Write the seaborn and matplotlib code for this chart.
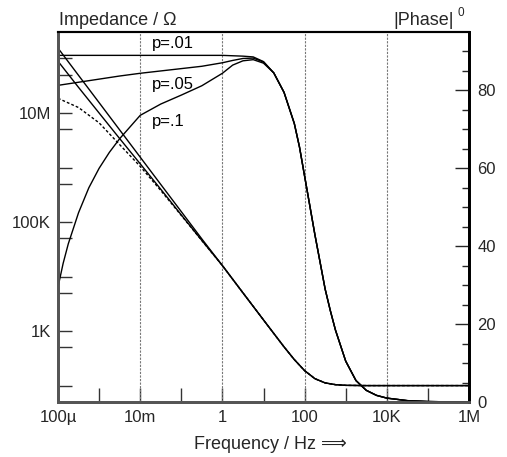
import numpy as np
import pandas as pd
import seaborn as sns
import matplotlib.pyplot as plt
from matplotlib.ticker import FixedLocator, FuncFormatter, NullLocator

# ---- impedance, low-frequency branches (Hz, Ohm) ----
f_low = [1e-4, 3.16e-4, 1e-3, 3.16e-3, 1e-2, 3.16e-2, 0.1, 0.316]
z_upper = [1.55e8, 4.9e7, 1.55e7, 4.9e6, 1.55e6, 4.9e5, 1.55e5, 4.9e4]
z_lower = [8.9e7, 2.95e7, 1.0e7, 3.4e6, 1.17e6, 4.0e5, 1.35e5, 4.6e4]
z_dashed = [1.86e7, 1.26e7, 6.6e6, 2.63e6, 1.05e6, 3.8e5, 1.32e5, 4.57e4]

# ---- impedance, common high-frequency branch ----
f_high = [1.0, 3.16, 10.0, 31.6, 56.2, 100.0, 177.8, 316.0, 562.3, 1e3, 3.16e3, 1e4, 1e5, 1e6]
z_high = [1.59e4, 5.03e3, 1.6e3, 513, 300, 188, 134, 112, 104, 101, 100, 100, 100, 100]

# ---- |phase| in degrees ----
f_p01 = [1e-4, 1e-3, 1e-2, 0.1, 1.0, 1.778, 3.16, 5.623, 10.0]
ph_p01 = [89.0, 89.0, 89.0, 89.0, 89.0, 88.9, 88.8, 88.6, 87.4]

f_p05 = [1e-4, 3.16e-4, 1e-3, 3.16e-3, 1e-2, 3.16e-2, 0.1, 0.316, 1.0, 1.778, 3.16, 5.623, 10.0]
ph_p05 = [81.3, 82.1, 82.9, 83.7, 84.4, 85.0, 85.6, 86.2, 87.1, 87.7, 88.2, 88.3, 87.3]

f_p1 = [1e-4, 1.334e-4, 1.778e-4, 3.16e-4, 5.623e-4, 1e-3, 1.778e-3, 3.16e-3, 5.623e-3,
        1e-2, 3.16e-2, 0.1, 0.316, 1.0, 1.778, 3.16, 5.623, 10.0]
ph_p1 = [29.5, 35.6, 40.6, 48.6, 55.0, 60.0, 64.1, 67.6, 70.6,
         73.6, 76.5, 78.8, 81.2, 84.4, 86.5, 87.6, 87.9, 87.0]

f_tail = [17.78, 31.6, 56.2, 75.0, 100.0, 133.4, 177.8, 237.1, 316.0, 421.7, 562.3,
          1e3, 1778, 3162, 5623, 1e4, 3.162e4, 1e5, 3.162e5, 1e6]
ph_tail = [84.5, 79.5, 71.5, 65.5, 58.0, 50.5, 43.0, 36.0, 29.0, 23.5, 18.5,
           10.5, 5.5, 3.0, 1.7, 1.0, 0.35, 0.12, 0.04, 0.01]

p_labels = ["p=.01", "p=.05", "p=.1"]
x_tick_labels = {-4: "100\u00b5", -2: "10m", 0: "1", 2: "100", 4: "10K", 6: "1M"}
z_tick_labels = {1e3: "1K", 1e5: "100K", 1e7: "10M"}

sns.set_theme(style="white")
plt.rcParams["font.family"] = ["Liberation Sans", "DejaVu Sans"]

W, H = 507, 457
fig = plt.figure(figsize=(W / 100, H / 100), dpi=100)
L, R, T, B = 58, 469, 32, 402
ax = fig.add_axes([L / W, 1 - B / H, (R - L) / W, (B - T) / H])
ax2 = ax.twinx()

ax.set_xscale("log")
ax.set_yscale("log")
ax.set_xlim(1e-4, 1e6)
ax.set_ylim(50, 3.06e8)
ax2.set_ylim(0, 95)

# vertical guide lines
for xg in [1e-2, 1.0, 1e2, 1e4]:
    ax.axvline(xg, color="#777777", lw=0.8, ls=(0, (2, 1.2)), zorder=1)

# impedance curves
def zframe(f_part, z_part):
    return pd.DataFrame({"freq": list(f_part) + f_high, "Z": list(z_part) + z_high})

for zz, style in [(z_upper, "-"), (z_lower, "-"), (z_dashed, (0, (2, 1.5)))]:
    sns.lineplot(data=zframe(f_low, zz), x="freq", y="Z", ax=ax, color="black",
                 lw=1.0, linestyle=style, estimator=None, sort=False)

# phase curves
for ff, pp in [(f_p01, ph_p01), (f_p05, ph_p05), (f_p1, ph_p1)]:
    df = pd.DataFrame({"freq": ff + f_tail, "phase": pp + ph_tail})
    sns.lineplot(data=df, x="freq", y="phase", ax=ax2, color="black", lw=1.0,
                 estimator=None, sort=False)

# curve labels
for lab, yv in zip(p_labels, [92.0, 81.5, 72.0]):
    ax2.text(0.0195, yv, lab, fontsize=12, ha="left", va="center", color="black")

# ticks
decades = [10.0 ** k for k in range(-4, 7)]
ax.xaxis.set_major_locator(FixedLocator(decades))
ax.xaxis.set_minor_locator(NullLocator())
ax.xaxis.set_major_formatter(FuncFormatter(
    lambda v, pos: x_tick_labels.get(int(round(np.log10(v))), "")))

z_ticks = [100, 500, 1e3, 5e3, 1e4, 5e4, 1e5, 5e5, 1e6, 5e6, 1e7, 5e7, 1e8]
ax.yaxis.set_major_locator(FixedLocator(z_ticks))
ax.yaxis.set_minor_locator(NullLocator())
ax.yaxis.set_major_formatter(FuncFormatter(
    lambda v, pos: next((s for k, s in z_tick_labels.items() if abs(v - k) < 1e-6 * k), "")))

ax.tick_params(axis="both", which="major", direction="in", length=10, width=1.0,
               color="#333333", labelsize=12, bottom=True, left=True,
               top=False, right=False)
ax.tick_params(axis="y", pad=5)
ax.tick_params(axis="x", pad=6)
ax2.yaxis.set_major_locator(FixedLocator([0, 20, 40, 60, 80]))
ax2.yaxis.set_minor_locator(FixedLocator([5, 10, 15, 25, 30, 35, 45, 50, 55, 65, 70, 75, 85, 90]))
ax2.tick_params(axis="y", which="major", direction="in", length=10, width=1.0,
                labelsize=12, pad=6, right=True, left=False)
ax2.tick_params(axis="y", which="minor", direction="in", length=5, width=1.0,
                right=True, left=False)
ax.set_xlabel("")
ax.set_ylabel("")
ax2.set_ylabel("")

# frame
for a in (ax, ax2):
    a.spines["left"].set_color("#555555")
    a.spines["left"].set_linewidth(2.0)
    a.spines["bottom"].set_color("#555555")
    a.spines["bottom"].set_linewidth(2.0)
    a.spines["top"].set_color("black")
    a.spines["top"].set_linewidth(1.5)
    a.spines["right"].set_color("black")
    a.spines["right"].set_linewidth(2.0)

# axis titles
fig.text(59 / W, 1 - 25 / H, "Impedance / \u03a9", fontsize=13, ha="left", va="baseline")
fig.text(454 / W, 1 - 25 / H, "|Phase|", fontsize=13, ha="right", va="baseline")
fig.text(458 / W, 1 - 16 / H, "0", fontsize=8.5, ha="left", va="baseline")
fig.text(270 / W, 1 - 449 / H, "Frequency / Hz \u27f9", fontsize=13, ha="center", va="baseline")

fig.savefig("out.png", dpi=100, facecolor="white")
